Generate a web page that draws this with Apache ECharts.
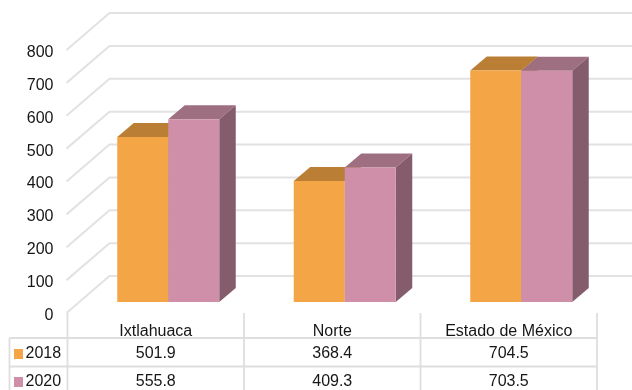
<!DOCTYPE html>
<html>
<head>
<meta charset="utf-8">
<style>html,body{margin:0;padding:0;background:#fff;overflow:hidden}#c{width:632px;height:390px;filter:blur(0.45px)}</style>
<script src="https://cdn.jsdelivr.net/npm/echarts@6/dist/echarts.min.js"></script>
</head>
<body>
<div id="c"></div>
<script>
var categories = ['Ixtlahuaca', 'Norte', 'Estado de México'];
var values2018 = [501.9, 368.4, 704.5];
var values2020 = [555.8, 409.3, 703.5];
var yTicks = [0, 100, 200, 300, 400, 500, 600, 700, 800];

var FONT = '"Liberation Sans", Arial, sans-serif';
var TEXT = '#161616';
var GRID = '#e2e2e2';
var TABLE = '#dedede';
var DEPTH_X = 42, DEPTH_Y = 37;          // wall depth
var INSET_X = 12.5, INSET_Y = 11;        // bars sit inside the floor
var BAR_W = 51, BAR_DX = 16.5, BAR_DY = 14;
var ROW1 = 41, ROW2 = 68.5;              // table rows below the axis
var LINE1 = 25, LINE2 = 53.5;

var chart = echarts.init(document.getElementById('c'), null, {renderer: 'canvas'});

function poly(pts, fill) {
  return {type: 'polygon', shape: {points: pts}, style: {fill: fill}};
}
function barSeries(name, values, col, topCol, sideCol, sign, rowY) {
  return {
    name: name,
    type: 'custom',
    clip: false,
    z: 5,
    itemStyle: {color: col},
    data: values.map(function (v, i) { return [i, v]; }),
    renderItem: function (params, api) {
      var top = api.coord([api.value(0), api.value(1)]);
      var base = api.coord([api.value(0), 0]);
      var cx = top[0] + INSET_X;
      var x0 = sign < 0 ? cx - BAR_W : cx;
      var x1 = x0 + BAR_W;
      var yT = top[1] - INSET_Y;
      var yB = base[1] - INSET_Y;
      return {
        type: 'group',
        children: [
          poly([[x0, yT], [x0 + BAR_DX, yT - BAR_DY], [x1 + BAR_DX, yT - BAR_DY], [x1, yT]], topCol),
          poly([[x1, yT], [x1 + BAR_DX, yT - BAR_DY], [x1 + BAR_DX, yB - BAR_DY], [x1, yB]], sideCol),
          poly([[x0, yT], [x1, yT], [x1, yB], [x0, yB]], col),
          {
            type: 'text',
            style: {
              x: top[0], y: base[1] + rowY,
              text: api.value(1).toFixed(1),
              font: '16px ' + FONT, fill: TEXT,
              align: 'center', verticalAlign: 'middle'
            }
          }
        ]
      };
    }
  };
}

var option = {
  animation: false,
  backgroundColor: '#ffffff',
  textStyle: {fontFamily: FONT},
  grid: {left: 67.5, right: 35, top: 50, bottom: 77},
  legend: {
    orient: 'vertical',
    left: 14, top: 346,
    data: ['2018', '2020'],
    icon: 'rect',
    itemWidth: 9, itemHeight: 10,
    itemGap: 12,
    textStyle: {fontSize: 16, color: TEXT, fontFamily: FONT, padding: [0, 0, 0, -2.5]},
    padding: 0,
    selectedMode: false
  },
  xAxis: {
    type: 'category',
    data: categories,
    axisLine: {show: false},
    axisTick: {show: false},
    splitLine: {show: false},
    axisLabel: {fontSize: 16, color: TEXT, fontFamily: FONT, margin: 11, interval: 0}
  },
  yAxis: {
    type: 'value',
    min: 0, max: 800, interval: 100,
    axisLine: {show: false},
    axisTick: {show: false},
    splitLine: {show: false},
    axisLabel: {
      margin: 14,
      formatter: '{t|{value}}',
      rich: {t: {fontSize: 16, color: TEXT, fontFamily: FONT, padding: [5, 0, 0, 0]}}
    }
  },
  series: [
    {
      name: 'walls',
      type: 'custom',
      clip: false,
      silent: true,
      z: 1,
      data: yTicks.map(function (t) { return [0, t]; }),
      renderItem: function (params, api) {
        var y = api.coord([0, api.value(1)])[1];
        var cs = params.coordSys;
        var l = cs.x, r = cs.x + cs.width;
        return {
          type: 'polyline',
          shape: {points: [[l - 1, y], [l + DEPTH_X, y - DEPTH_Y], [r + DEPTH_X, y - DEPTH_Y]]},
          style: {stroke: GRID, lineWidth: 2, fill: null}
        };
      }
    },
    {
      name: 'table',
      type: 'custom',
      clip: false,
      silent: true,
      z: 2,
      data: [[0, 0]],
      renderItem: function (params, api) {
        var cs = params.coordSys;
        var b = cs.y + cs.height;
        var step = cs.width / categories.length;
        var lines = [];
        function seg(x1, y1, x2, y2) {
          lines.push({type: 'line', shape: {x1: x1, y1: y1, x2: x2, y2: y2},
            style: {stroke: TABLE, lineWidth: 1.8}});
        }
        var tableLeft = cs.x - 58;
        seg(tableLeft, b + LINE1, cs.x + cs.width, b + LINE1);
        seg(tableLeft, b + LINE2, cs.x + cs.width, b + LINE2);
        seg(tableLeft, b + LINE1, tableLeft, b + 90);
        for (var i = 0; i <= categories.length; i++) {
          seg(cs.x + step * i, b, cs.x + step * i, b + 90);
        }
        return {type: 'group', children: lines};
      }
    },
    barSeries('2018', values2018, '#F4A546', '#BA7F35', '#BA7F35', -1, ROW1),
    barSeries('2020', values2020, '#D08FA8', '#9E6F80', '#855C6B', 1, ROW2)
  ]
};
chart.setOption(option);
</script>
</body>
</html>
